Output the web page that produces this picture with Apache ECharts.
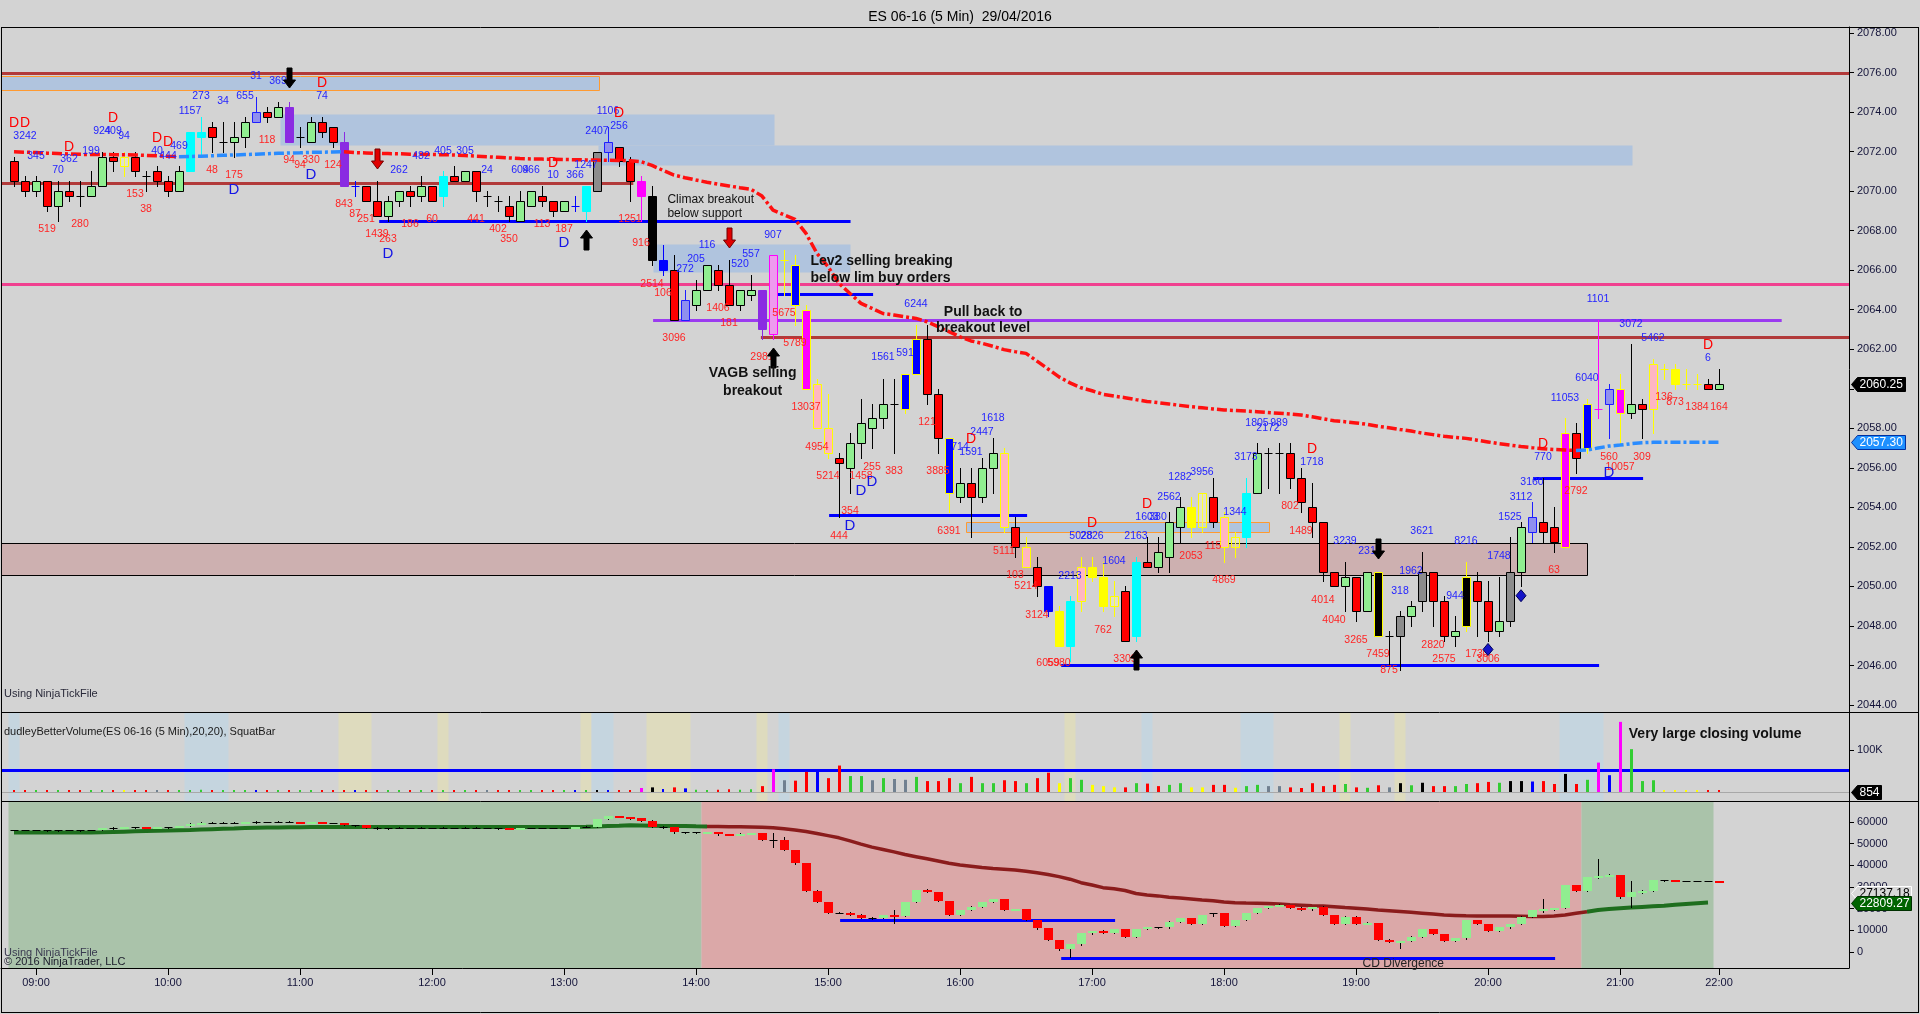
<!DOCTYPE html>
<html>
<head>
<meta charset="utf-8">
<title>ES 06-16 (5 Min) 29/04/2016</title>
<script src="https://cdn.jsdelivr.net/npm/echarts@6.0.0/dist/echarts.min.js"></script>
<style>
html,body{margin:0;padding:0;background:#d3d3d3;overflow:hidden;}
#chart{width:1920px;height:1014px;}
</style>
</head>
<body>
<div id="chart"></div>
<script>
// ================= DATA =================
// x positions are 5-minute bar numbers (bar 0 = 08:50 ... bar 155 = 22:00; 21:20-21:30 halt has no bars)
const tickBars   = [2,14,26,38,50,62,74,86,98,110,122,134,146,155];
const tickLabels = ['09:00','10:00','11:00','12:00','13:00','14:00','15:00','16:00','17:00','18:00','19:00','20:00','21:00','22:00'];
const priceTicks = [2044,2046,2048,2050,2052,2054,2056,2058,2060,2062,2064,2066,2068,2070,2072,2074,2076,2078];
const volTicks   = [100];          // thousands
const cdTicks    = [0,10000,20000,30000,40000,50000,60000];

const open = [
2071.50,2070.50,2070.00,2070.50,2069.25,2070.00,2069.75,2069.75,2070.25,2071.75,
2071.75,2071.75,2070.75,2071.00,2070.50,2070.00,2071.00,2073.00,2073.25,2072.50,
2072.50,2072.75,2073.50,2074.00,2073.75,2074.25,2072.75,2072.50,2073.50,2073.25,
2072.50,2070.25,2070.25,2069.50,2068.75,2069.50,2070.00,2069.75,2070.25,2069.75,
2070.75,2070.50,2071.00,2069.75,2069.50,2069.25,2068.50,2069.25,2069.75,2069.50,
2069.00,2069.25,2069.00,2070.00,2072.00,2072.25,2071.50,2070.50,2069.75,2066.50,
2066.00,2063.50,2064.25,2065.00,2066.00,2065.25,2064.25,2064.75,2065.00,2062.75,
2066.50,2066.25,2064.00,2060.25,2058.00,2056.50,2056.00,2057.25,2058.00,2058.50,
2059.25,2059.00,2060.75,2062.50,2059.75,2057.50,2054.50,2055.25,2054.50,2056.00,
2056.75,2053.00,2052.00,2051.00,2050.00,2048.75,2047.00,2049.25,2051.00,2050.50,
2049.00,2049.75,2047.50,2051.25,2051.00,2051.50,2053.00,2054.00,2053.00,2054.50,
2053.50,2052.00,2052.50,2054.75,2056.75,2056.75,2056.75,2055.50,2054.00,2053.25,
2050.75,2050.00,2050.50,2048.75,2050.75,2047.50,2047.50,2048.50,2049.25,2050.75,
2049.25,2047.50,2048.00,2050.25,2049.25,2047.75,2048.25,2050.75,2052.75,2053.25,
2053.00,2052.00,2057.75,2057.00,2059.00,2059.25,2060.00,2058.75,2059.25,2059.00,
2061.00,2061.00,2060.25,2060.25,2060.25,2060.00];
const high = [
2071.75,2070.75,2070.75,2070.50,2070.50,2070.50,2070.50,2071.00,2072.00,2072.00,
2072.00,2072.00,2071.00,2071.25,2070.75,2071.25,2073.00,2073.75,2073.50,2073.50,
2073.50,2073.75,2074.75,2074.25,2074.50,2074.50,2073.25,2073.75,2073.75,2073.25,
2073.00,2070.50,2070.25,2070.50,2069.75,2070.00,2070.25,2070.75,2070.25,2071.00,
2071.25,2071.00,2071.00,2070.00,2069.75,2069.75,2070.00,2070.00,2070.25,2069.50,
2069.50,2069.75,2070.25,2072.00,2073.25,2072.25,2071.75,2070.75,2070.25,2067.25,
2066.75,2065.00,2065.50,2066.25,2066.25,2066.50,2065.00,2065.75,2065.00,2066.75,
2067.00,2066.75,2064.25,2060.50,2059.75,2056.75,2057.75,2059.50,2059.25,2060.50,
2060.50,2060.75,2063.25,2063.25,2060.00,2057.50,2056.00,2056.00,2056.50,2057.50,
2057.00,2053.50,2052.50,2051.50,2050.00,2049.00,2049.50,2051.50,2051.50,2051.25,
2050.25,2050.00,2051.50,2052.50,2052.50,2053.75,2054.50,2054.50,2054.75,2055.50,
2053.75,2052.75,2055.50,2057.25,2057.00,2057.25,2057.25,2056.00,2055.25,2053.25,
2050.75,2051.25,2050.50,2050.75,2050.75,2047.75,2048.75,2049.25,2051.75,2050.75,
2049.50,2048.50,2051.25,2050.75,2050.25,2050.50,2052.50,2053.25,2054.25,2055.50,
2054.00,2058.50,2058.25,2059.50,2063.50,2060.25,2060.75,2062.25,2059.50,2061.50,
2061.25,2061.25,2061.00,2060.75,2060.50,2061.00];
const low = [
2070.25,2069.75,2069.75,2069.00,2068.50,2069.50,2069.25,2069.75,2070.25,2071.00,
2070.75,2070.75,2070.00,2070.25,2069.75,2070.00,2071.00,2071.75,2072.00,2072.00,
2071.75,2072.25,2073.50,2073.50,2073.75,2072.50,2072.25,2072.50,2072.75,2072.25,
2070.25,2069.75,2069.50,2068.75,2068.50,2069.25,2069.25,2069.50,2069.50,2069.25,
2070.50,2070.50,2069.50,2069.25,2069.00,2068.50,2068.50,2069.25,2069.25,2068.75,
2069.00,2069.00,2068.50,2070.00,2071.50,2071.25,2069.50,2068.50,2066.25,2065.75,
2063.50,2063.50,2064.00,2065.00,2065.00,2064.25,2064.00,2064.50,2062.50,2062.50,
2064.75,2063.25,2060.00,2058.00,2056.50,2053.50,2054.75,2056.50,2057.00,2058.00,
2056.75,2058.75,2060.75,2059.25,2056.75,2053.75,2054.25,2052.50,2054.25,2054.75,
2052.75,2051.50,2051.00,2049.50,2048.50,2047.00,2046.25,2048.75,2050.25,2048.75,
2048.50,2047.25,2047.25,2051.00,2050.75,2050.75,2052.25,2052.50,2052.75,2053.00,
2051.25,2051.50,2052.00,2054.75,2055.00,2054.75,2055.00,2053.75,2052.50,2050.25,
2050.00,2048.75,2048.25,2048.75,2047.50,2046.00,2045.75,2048.00,2048.75,2048.00,
2047.25,2047.00,2047.75,2047.50,2047.25,2047.50,2048.00,2050.00,2052.25,2052.25,
2051.75,2052.00,2055.75,2056.75,2058.50,2057.50,2057.25,2058.50,2057.50,2057.75,
2060.50,2060.00,2060.00,2060.00,2060.00,2060.00];
const close = [
2070.50,2070.00,2070.50,2069.25,2070.00,2069.75,2069.75,2070.25,2071.75,2071.50,
2071.25,2071.00,2070.75,2070.50,2070.00,2071.00,2073.00,2072.75,2072.75,2072.50,
2072.75,2073.50,2074.00,2073.75,2074.25,2072.50,2072.75,2073.50,2073.00,2072.50,
2070.25,2070.25,2069.50,2068.75,2069.50,2070.00,2069.75,2070.25,2069.50,2070.75,
2070.50,2071.00,2070.00,2069.75,2069.50,2068.75,2069.50,2070.00,2069.50,2069.00,
2069.50,2069.25,2070.25,2072.00,2072.50,2071.50,2070.50,2069.75,2066.50,2066.00,
2063.50,2064.50,2065.00,2066.25,2065.25,2064.25,2065.00,2065.00,2063.00,2066.75,
2066.50,2064.25,2060.00,2058.00,2056.75,2056.25,2057.25,2058.25,2058.50,2059.25,
2059.25,2060.75,2062.50,2059.75,2057.50,2054.75,2055.25,2054.50,2056.00,2056.75,
2053.00,2052.00,2051.00,2050.00,2048.75,2047.00,2049.25,2051.00,2050.50,2049.00,
2049.50,2047.25,2051.25,2051.00,2051.75,2053.25,2054.00,2053.00,2054.75,2053.25,
2052.00,2052.50,2054.75,2056.75,2056.75,2056.75,2055.50,2054.25,2053.25,2050.75,
2050.00,2050.50,2048.75,2050.75,2047.50,2047.50,2048.50,2049.00,2050.75,2049.25,
2047.50,2047.75,2050.50,2049.25,2047.75,2048.25,2050.75,2053.00,2053.50,2052.75,
2052.25,2057.75,2056.50,2059.25,2059.00,2060.00,2058.75,2059.25,2059.00,2061.25,
2061.00,2060.25,2060.25,2060.25,2060.00,2060.25];

// bar paint class (volume-analysis colouring of each candle)
const barClass = ('R R G R G R X G G R YH R X R R G C C R X G G LB R G P X G R R ' +
 'P XB R R G G R G R C R G R X X R G G R R G XB C GR LB R R M K B ' +
 'R LB G G R R G G P PKM XY BY MY PKY PKY R G G G G X BY BY R R BY G R G G ' +
 'PKY R PKY R B Y C PKY Y Y YH R C R G G G Y YH R PKY YH C G X X R R R R ' +
 'R G R G KY X GR G GR R R G KY R R G GR G LB R R MY R BY XM LB MY G R PKY ' +
 'XY Y XY XY R G').split(' ');

// volume per bar, thousands of contracts
const volume = [
2.2,1.8,1.6,2.4,1.9,1.4,1.2,1.8,2.6,1.5, 1.3,2.0,1.2,1.6,1.7,2.0,3.0,5.5,2.5,1.5,
1.8,2.2,2.5,1.6,1.8,2.8,1.4,2.0,1.6,2.2, 3.0,2.5,2.4,5.0,2.6,1.8,1.5,1.8,2.0,2.4,
1.5,1.4,2.2,1.3,1.2,2.0,2.4,1.8,1.5,1.8, 1.4,2.0,4.8,4.8,4.8,3.0,4.8,9.5,11,7,
11,8.7,5.5,4.8,5.5,6.3,5.5,6.3,14,54, 28,27,48,52,33,63,38,38,28,33,
31,29,36,26,26,33,21,36,21,21, 28,26,21,33,46,21,33,29,17,14,
11,11,21,20,14,17,21,11,11,17, 17,10,14,17,14,14,11,9.5,21,14,
17,19,11,10,16,11,21,16,22,14, 14,14,19,21,24,22,26,26,25,26,
19,43,19,29,70,40,167,102,26,28, 5,2.5,2.5,2.5,1.5,0.854];
const volClass = ('r r g r g r r g g r y r r s r g g g r g g g b r g r g g r r ' +
 'r b r r g g r g r g r g r s r r g g r r g b g k b r r m k b ' +
 'r b g g r r g g r m s r r b r r g g s g s s g r r r g r g g ' +
 'r r g r r y g g y y y r g r r g g y y r r y g g s s r r r r ' +
 'r g r g r s k g k r r g g r r g k k b r r k r g m b m g g g y y y y r r').split(' ');
// squat-bar background bands [fromBar, toBar, kind]
const volBands = [[0,0,'b'],[16,19,'b'],[30,32,'y'],[39,39,'y'],[52,52,'y'],[53,54,'b'],[58,61,'y'],
 [68,68,'y'],[70,70,'b'],[96,96,'y'],[103,103,'b'],[112,114,'b'],[121,121,'y'],[126,126,'y'],[141,144,'b']];

// moving average on price panel
const ma = [
2071.99,2071.97,2071.95,2071.92,2071.90,2071.88,2071.86,2071.855,2071.85,2071.845,
2071.84,2071.83,2071.81,2071.79,2071.76,2071.74,2071.75,2071.77,2071.79,2071.81,
2071.83,2071.85,2071.87,2071.89,2071.91,2071.93,2071.94,2071.96,2071.97,2071.98,
2071.99,2071.95,2071.93,2071.91,2071.90,2071.89,2071.87,2071.86,2071.85,2071.84,
2071.83,2071.80,2071.77,2071.74,2071.71,2071.68,2071.65,2071.63,2071.62,2071.61,
2071.60,2071.59,2071.58,2071.57,2071.56,2071.55,2071.54,2071.49,2071.30,2071.05,
2070.81,2070.68,2070.56,2070.45,2070.35,2070.26,2070.17,2070.09,2069.75,2069.04,
2068.80,2068.57,2067.86,2066.85,2066.18,2065.33,2064.82,2064.32,2064.07,2063.81,
2063.73,2063.64,2063.56,2063.39,2063.14,2062.89,2062.63,2062.42,2062.30,2062.15,
2061.98,2061.88,2061.79,2061.40,2061.00,2060.60,2060.30,2060.05,2059.90,2059.72,
2059.63,2059.55,2059.45,2059.36,2059.30,2059.23,2059.16,2059.09,2059.04,2058.98,
2058.93,2058.90,2058.87,2058.84,2058.80,2058.76,2058.72,2058.67,2058.58,2058.48,
2058.38,2058.33,2058.27,2058.20,2058.10,2058.03,2057.94,2057.86,2057.76,2057.68,
2057.60,2057.54,2057.49,2057.40,2057.31,2057.22,2057.15,2057.08,2057.02,2056.97,
2056.93,2056.90,2056.88,2056.90,2057.00,2057.10,2057.15,2057.22,2057.27,2057.29,
2057.30,2057.30,2057.30,2057.30,2057.30,2057.30];

// cumulative delta panel
const cdOpen = [
56300,56300,56400,56350,56100,56250,56300,56100,56300,57000, 57400,57500,57500,57450,57500,57800,58000,59300,59700,59600,
59700,59700,59800,60150,60050,60200,59900,59700,59900,59700, 59500,58600,58400,57400,57000,57300,57400,57300,57300,57100,
57400,57350,57450,57200,57250,57000,56900,57200,57400,57300, 57200,57350,57700,57900,61400,62700,62300,61700,60600,57800,
57500,55200,55200,55000,55500,54300,54000,54600,54750,51700, 51500,47100,40900,28300,23200,18150,18150,17300,15850,15540,
17075,16800,23200,28600,27850,23550,17100,19400,20900,23200, 24460,19400,19700,14770,10920,5540,1230,3540,8615,9845,
8920,10460,7080,10460,11380,11380,14000,15540,12920,17800, 17845,12000,14770,18150,20150,21380,21845,20150,19700,20900,
17075,12920,16300,12920,13540,5540,4770,5080,7080,10460, 8150,5230,6300,14770,12920,9845,11380,12920,16300,19384,
19690,20150,30920,28300,34460,35230,35540,25230,27850,28300, 33230,33000,32615,32615,32615,32615];
const cdHigh = [
56500,56500,56500,56400,56400,56400,56350,56400,57100,57500, 57600,57600,57550,57600,57900,58200,59400,59900,59800,59800,
59850,59900,60300,60200,60300,60300,60000,60000,59950,59750, 59600,58700,58450,57800,57400,57500,57450,57500,57350,57500,
57450,57500,57500,57300,57300,57050,57300,57450,57450,57350, 57400,57750,58000,61500,62800,62800,62400,61800,60700,58000,
57600,55400,55600,55600,55600,54400,54800,54900,55000,54800, 52900,47200,41000,28500,23300,18600,18300,17400,16000,17300,
19400,23300,28700,29000,27900,23600,19500,21000,23300,24600, 24600,20000,19800,14900,11000,5600,3700,8700,9900,10000,
10500,10600,10600,11500,11600,14100,15600,15700,17200,18200, 17900,14800,18200,20200,21400,22100,21900,20900,20950,21000,
17100,16400,16400,13800,13600,5900,5300,7200,10500,10500, 8200,6400,14800,14900,13000,11400,13000,16400,19400,24300,
20300,31000,31000,34500,42920,36200,35600,32770,28600,33300, 33300,33050,32650,32650,32650,32650];
const cdLow = [
56100,56200,56200,55900,56000,56100,56000,56100,56200,56900, 57300,57400,57350,57400,57450,57700,58000,59200,59500,59500,
59600,59600,59750,59950,60000,59800,59600,59650,59600,59400, 58500,58300,57300,56900,56900,57200,57200,57200,57000,57050,
57300,57300,57100,57100,56900,56800,56850,57150,57250,57100, 57150,57300,57600,57900,61300,62200,61600,60500,57700,57300,
55100,55100,55100,54800,54200,53900,53900,54500,51600,48600, 47000,40800,28200,23100,18100,17800,17000,15700,15400,15500,
13500,16700,23100,27800,23500,17000,17000,19300,20800,23100, 19300,19300,14700,10800,5400,1100,-2460,3400,8500,8800,
8800,7000,7000,10400,11200,11300,13900,12800,12800,16800, 11900,11900,14700,18100,20100,21200,20100,19600,19600,17000,
12800,12800,12800,12800,5400,4700,1690,5000,7000,8100, 5200,5100,6200,12800,9800,9700,11300,12800,16200,18600,
19500,20100,28200,28200,34300,35000,25100,20920,27200,28200, 32900,32600,32580,32580,32580,32200];
const cdClose = [
56300,56400,56350,56100,56250,56300,56100,56300,57000,57400, 57500,57500,57450,57500,57800,58000,59300,59700,59600,59700,
59700,59800,60150,60050,60200,59900,59700,59900,59700,59500, 58600,58400,57400,57000,57300,57400,57300,57300,57100,57400,
57350,57450,57200,57250,57000,56900,57200,57400,57300,57200, 57350,57700,57900,61400,62700,62300,61700,60600,57800,57500,
55200,55200,55500,55500,54300,54000,54600,54750,51700,51500, 47100,40900,28300,23200,18150,18150,17300,15850,15540,17075,
16800,23200,28600,27850,23550,17100,19400,20900,23200,24460, 19400,19700,14770,10920,5540,1230,3540,8615,9845,8920,
10460,7080,10460,11380,11380,14000,15540,12920,17075,17845, 12000,14770,18150,20150,21380,21845,20150,19700,20900,17075,
12920,16300,12920,13540,5540,4770,5080,7080,10460,8150, 5230,6300,14770,12920,9845,11380,12920,16300,19384,19690,
20150,30920,28300,34460,35230,35540,25230,27850,28300,33230, 33000,32615,32615,32615,32615,32300];
const cdMa = [
55200,55200,55200,55200,55200,55200,55200,55200,55250,55400, 55550,55700,55850,55950,56050,56200,56350,56550,56700,56850,
57000,57200,57380,57450,57500,57550,57600,57650,57680,57690, 57700,57700,57700,57700,57700,57700,57700,57700,57700,57700,
57700,57700,57700,57700,57700,57700,57700,57700,57700,57700, 57700,57720,57800,57950,58150,58300,58460,58400,58300,58200,
58150,58100,58000,57950,57900,57850,57750,57650,57540,57300, 56900,56300,55600,54700,53700,52700,51300,49800,48400,47300,
46200,45000,44000,43000,42000,41000,40150,39600,39000,38500, 38200,37800,37300,36600,35800,34800,33600,32000,30900,29700,
29200,28400,27000,26300,25900,25300,24900,24500,24000,23600, 23100,22770,22600,22500,22350,22100,21800,21600,21400,21250,
20900,20500,20150,19800,19400,19080,18700,18300,17900,17500, 17100,16900,16700,16620,16620,16620,16620,16500,16350,16350,
16600,17100,17850,18600,19380,19800,20200,20500,20800,21100, 21400,21800,22200,22550,22809,null];
const cdZones = [[0,62,'up'],[63,142,'down'],[143,154,'up']];
const cdLevels = [[14770,75.1,100.1],[-2925,95.2,140.1]];

// drawn objects on the price panel (null = runs to the panel edge)
const priceZones = [
 [null,53.2,2075.1,2075.8,'orange'],
 [24.2,69.1,2072.33,2073.9,'blue'],
 [53.1,147.1,2071.3,2072.33,'blue'],
 [58.1,76.05,2065.92,2067.32,'blue'],
 [86.5,114.0,2052.76,2053.27,'orange'],
 [null,143.0,2050.56,2052.18,'rose']];
const priceLevels = [
 [2076.0,null,null,'red'],[2070.4,null,56.3,'red'],[2065.3,null,null,'pink'],
 [2063.5,58.1,160.7,'purple'],[2062.6,67.9,null,'red'],
 [2068.5,33.2,76.05,'blue'],[2064.8,69.2,78.1,'blue'],[2053.6,74.1,92.1,'blue'],
 [2046.0,95.2,144.1,'blue'],[2055.5,138.1,148.1,'blue']];
const volLevels = [[52,'blue'],[0,'grey']];

// per-bar volume/delta annotations [bar, price, text]
const blueNums = [
[1,2072.79,'3242'],[2,2071.79,'345'],[4,2071.07,'70'],[5,2071.61,'362'],[7,2072.03,'199'],[8,2073.04,'924'],
[9,2073.04,'409'],[10,2072.79,'94'],[13,2072.03,'40'],[14,2071.79,'444'],[15,2072.28,'469'],[16,2074.05,'1157'],
[17,2074.81,'273'],[19,2074.56,'34'],[21,2074.81,'655'],[22,2075.84,'31'],[24,2075.57,'369'],[28,2074.81,'74'],
[35,2071.07,'262'],[37,2071.79,'482'],[39,2072.03,'405'],[41,2072.03,'305'],[43,2071.07,'24'],[46,2071.07,'604'],
[47,2071.07,'966'],[49,2070.81,'10'],[51,2070.81,'366'],[52,2071.32,'1247'],[53,2073.04,'2407'],[54,2074.05,'1106'],
[55,2073.29,'256'],[61,2066.04,'272'],[62,2066.55,'205'],[63,2067.27,'116'],[66,2066.31,'520'],[67,2066.82,'557'],
[69,2067.78,'907'],[79,2061.59,'1561'],[81,2061.79,'591'],[82,2064.29,'6244'],[86,2057.07,'714'],[87,2056.81,'1591'],
[88,2057.83,'2447'],[89,2058.50,'1618'],[96,2050.52,'2213'],[97,2052.54,'5028'],[98,2052.54,'2826'],[100,2051.28,'1604'],
[102,2052.54,'2163'],[103,2053.52,'1603'],[104,2053.52,'380'],[105,2054.54,'2562'],[106,2055.55,'1282'],[108,2055.80,'3956'],
[111,2053.78,'1344'],[112,2056.56,'3173'],[113,2058.28,'1805'],[115,2058.28,'989'],[114,2058.00,'2172'],[118,2056.27,'1718'],
[121,2052.31,'3239'],[123,2051.80,'231'],[126,2049.76,'318'],[127,2050.79,'1962'],[128,2052.80,'3621'],[131,2049.50,'944'],
[132,2052.31,'8216'],[135,2051.53,'1748'],[136,2053.52,'1525'],[137,2054.54,'3112'],[138,2055.29,'3160'],[139,2056.56,'770'],
[141,2059.51,'11053'],[143,2060.56,'6040'],[144,2064.54,'1101'],[147,2063.27,'3072'],[149,2062.56,'5462'],[154,2061.54,'6']];
const redNums = [
[3,2068.08,'519'],[6,2068.33,'280'],[11,2069.85,'153'],[12,2069.09,'38'],[18,2071.07,'48'],[20,2070.81,'175'],
[23,2072.59,'118'],[25,2071.57,'94'],[26,2071.32,'94'],[27,2071.57,'330'],[29,2071.32,'124'],[30,2069.35,'843'],
[31,2068.84,'87'],[32,2068.59,'251'],[33,2067.83,'1439'],[34,2067.58,'263'],[36,2068.33,'186'],[38,2068.59,'60'],
[42,2068.59,'441'],[44,2068.08,'402'],[45,2067.58,'350'],[48,2068.33,'113'],[50,2068.08,'187'],[56,2068.59,'1251'],
[57,2067.36,'916'],[58,2065.30,'2514'],[59,2064.82,'106'],[60,2062.55,'3096'],[64,2064.07,'1406'],[65,2063.31,'181'],
[68,2061.62,'2981'],[70,2063.81,'5675'],[71,2062.30,'5789'],[72,2059.06,'13037'],[73,2057.03,'4954'],[74,2055.58,'5214'],
[75,2052.54,'444'],[76,2053.81,'354'],[77,2055.58,'1458'],[78,2056.02,'255'],[80,2055.83,'383'],[83,2058.30,'121'],
[84,2055.83,'3885'],[85,2052.80,'6391'],[90,2051.79,'5111'],[91,2050.57,'103'],[92,2050.03,'5214'],[93,2048.55,'3124'],
[94,2046.10,'6059'],[95,2046.10,'5980'],[99,2047.79,'762'],[101,2046.30,'3309'],[107,2051.53,'2053'],[109,2052.04,'115'],
[110,2050.32,'4869'],[116,2054.06,'802'],[117,2052.80,'1489'],[119,2049.30,'4014'],[120,2048.30,'4040'],[122,2047.28,'3265'],
[124,2046.57,'7459'],[125,2045.76,'875'],[129,2047.03,'2820'],[130,2046.30,'2575'],[133,2046.57,'1730'],[134,2046.30,'3006'],
[140,2050.82,'63'],[142,2054.82,'2792'],[145,2056.56,'560'],[146,2056.05,'10057'],[148,2056.56,'309'],[150,2059.56,'136'],
[151,2059.31,'873'],[153,2059.06,'1384'],[155,2059.06,'164']];
const redD = [[0,2073.46],[1,2073.46],[5,2072.21],[9,2073.68],[13,2072.67],[14,2072.5],[28,2075.45],[49,2071.44],
 [55,2073.97],[87,2057.45],[98,2053.22],[103,2054.16],[118,2056.95],[139,2057.2],[154,2062.21]];
const blueD = [[20,2070.05],[27,2070.81],[34,2066.85],[50,2067.36],[76,2053.05],[77,2054.84],[78,2055.3],[145,2055.77]];
// signal arrows [bar, tip price, direction (1 up / -1 down), kind]
const arrows = [[25,2075.22,-1,'k'],[52,2068.03,1,'k'],[33,2071.12,-1,'r'],[65,2067.12,-1,'r'],
 [69,2062.06,1,'k'],[102,2046.78,1,'k'],[124,2051.38,-1,'k']];
const diamonds = [[137,2049.53],[134,2046.81]];
// commentary [bar, price, text, weight, align]
const priceNotes = [
 [59.4,2069.55,'Climax breakout','normal','left'],[59.4,2068.84,'below support','normal','left'],
 [72.4,2066.46,'Lev2 selling breaking','bold','left'],[72.4,2065.60,'below lim buy orders','bold','left'],
 [88.1,2063.90,'Pull back to','bold','center'],[88.1,2063.06,'breakout level','bold','center'],
 [67.15,2060.80,'VAGB selling','bold','center'],[67.15,2059.90,'breakout','bold','center']];
const volNotes = [[146.8,138,'Very large closing volume','bold','left']];
const cdNotes = [[126.3,-5538,'CD Divergence','normal','center']];
// last-value tags [value, text, kind]
const priceTags = [[2060.25,'2060.25','last'],[2057.30,'2057.30','ma']];
const volTags = [[0.854,'854','last']];
const cdTags = [[27137.18,'27137.18','plain'],[22809.27,'22809.27','cdma']];

// ================= STYLE / LAYOUT =================
const FONT = '"Liberation Sans", Arial, Helvetica, sans-serif';
const AXIS_TEXT = '#14143A';
const XMIN = -13/11, XMAX = 1835/11;
const PMIN = 2043.6458, PMAX = 2078.3036;
const VMIN = -21.43, VMAX = 190.48;
const CMIN = -7385, CMAX = 69692;

const CANDLE = {
 R:['#FF0000','#000000'], G:['#90EE90','#000000'], X:[null,'#000000'], XB:[null,'#0000FF'],
 XY:[null,'#FFFF00'], XM:[null,'#FF00FF'], C:['#00FFFF','#00FFFF'], LB:['#8F8FEF','#1E1EFF'],
 P:['#8A2BE2','#8A2BE2'], GR:['#8C8C8C','#000000'], K:['#000000','#000000'], B:['#0000FF','#0000FF'],
 BY:['#0000FF','#FFFF00'], M:['#FF00FF','#FF00FF'], MY:['#FF00FF','#FFFF00'], PKY:['#FFB6C1','#FFFF00'],
 PKM:['#EE9AEE','#FF00FF'], Y:['#FFFF00','#FFFF00'], YH:['rgba(255,255,190,0.3)','#FFFF00'], KY:['#000000','#FFFF00']};
const VOLC = {r:'#FF0000', g:'#32CD32', b:'#0000FF', k:'#000000', m:'#FF00FF', y:'#FFFF00', s:'#708090'};
const ZONE = {blue:['#B0C4DE',null], orange:['#B0C4DE','#FF9A30'], rose:['#CDB0B0','#000000']};
const LEVEL = {red:['#B23A3A',3], pink:['#F0408F',3], purple:['#9B3BF0',3], blue:['#0000FF',3], grey:['#A8A8A8',1]};
const TAG = {last:['#000000','#FFFFFF','#000000'], ma:['#1E90FF','#FFFFFF','#0030A0'],
 plain:['#D8D8D8','#000000','#FFFFFF'], cdma:['#006400','#FFFFFF','#003000']};

const edge = (v, d) => v === null ? d : v;

function zoneSeries() {
 return {type:'custom', xAxisIndex:0, yAxisIndex:0, z:1, silent:true, clip:true,
  data: priceZones.map(z => [edge(z[0], XMIN), z[2]]),
  renderItem:(params, api) => {
   const z = priceZones[params.dataIndex];
   const a = api.coord([edge(z[0], XMIN), z[3]]), b = api.coord([edge(z[1], XMAX), z[2]]);
   const st = ZONE[z[4]];
   return {type:'rect', shape:{x:Math.round(a[0])+0.5, y:Math.round(a[1])+0.5, width:Math.round(b[0]-a[0]), height:Math.round(b[1]-a[1])},
    style:{fill:st[0], stroke:st[1] || 'none', lineWidth:st[1] ? 1 : 0}};
  }};
}
function levelSeries(levels, xi, yi, getY, getX0, getX1, getKind, z) {
 return {type:'custom', xAxisIndex:xi, yAxisIndex:yi, z:z, silent:true, clip:true,
  data: levels.map(l => [getX0(l), getY(l)]),
  renderItem:(params, api) => {
   const l = levels[params.dataIndex];
   const a = api.coord([getX0(l), getY(l)]), b = api.coord([getX1(l), getY(l)]);
   const st = LEVEL[getKind(l)];
   const y = st[1] % 2 ? Math.round(a[1]) + 0.5 : Math.round(a[1]);
   return {type:'line', shape:{x1:a[0], y1:y, x2:b[0], y2:y}, style:{stroke:st[0], lineWidth:st[1]}};
  }};
}
function textSeries(arr, xi, yi, color, font, z, fixedText) {
 return {type:'custom', xAxisIndex:xi, yAxisIndex:yi, z:z, silent:true, clip:false,
  data: arr.map(a => [a[0], a[1]]),
  renderItem:(params, api) => {
   const a = arr[params.dataIndex];
   const p = api.coord([a[0], a[1]]);
   const f = typeof font === 'function' ? font(a) : font;
   const al = a[4] || 'center';
   return {type:'text', x:p[0], y:p[1], style:{text: fixedText || a[2], fill:color, font:f,
    align:al, verticalAlign:'middle', textAlign:al, textVerticalAlign:'middle'}};
  }};
}
function tagSeries(tags, xi, yi) {
 return {type:'custom', xAxisIndex:xi, yAxisIndex:yi, z:20, silent:true, clip:false,
  data: tags.map(t => [XMAX, t[0]]),
  renderItem:(params, api) => {
   const t = tags[params.dataIndex];
   const p = api.coord([XMAX, t[0]]);
   const x = Math.round(p[0]) + 2.5, y = Math.round(p[1]) + 0.5;
   const w = t[1].length * 6 + 6;
   const st = TAG[t[2]];
   return {type:'group', children:[
    {type:'polygon', shape:{points:[[x,y],[x+6,y-7],[x+6+w,y-7],[x+6+w,y+7],[x+6,y+7]]}, style:{fill:st[0], stroke:st[2], lineWidth:1}},
    {type:'text', x:x+8, y:y, style:{text:t[1], fill:st[1], font:'12px ' + FONT, align:'left', verticalAlign:'middle', textAlign:'left', textVerticalAlign:'middle'}}
   ]};
  }};
}

// moving-average colour split by slope
const maRed = [], maBlue = [];
const segUp = j => j >= 0 && j < ma.length - 1 && ma[j+1] >= ma[j];
const segDn = j => j >= 0 && j < ma.length - 1 && ma[j+1] < ma[j];
for (let i = 0; i < ma.length; i++) {
 maRed.push([i, (segDn(i) || segDn(i-1)) ? ma[i] : null]);
 maBlue.push([i, (segUp(i) || segUp(i-1)) ? ma[i] : null]);
}
const zoneOf = i => { for (const z of cdZones) if (i >= z[0] && i <= z[1]) return z[2]; return null; };
const cdMaUp = [], cdMaDn = [];
for (let i = 0; i < cdMa.length; i++) {
 const s0 = zoneOf(i), s1 = zoneOf(i-1);
 cdMaUp.push([i, (s0 === 'up' || s1 === 'up') && cdMa[i] !== null ? cdMa[i] : null]);
 cdMaDn.push([i, (s0 === 'down' || s1 === 'down') && cdMa[i] !== null ? cdMa[i] : null]);
}

const xAxisBase = {type:'value', min:XMIN, max:XMAX, splitLine:{show:false}};
const yAxisBase = {type:'value', position:'right', splitLine:{show:false},
 axisLine:{show:true, onZero:false, lineStyle:{color:'#000', width:1}},
 axisTick:{show:true, length:5, lineStyle:{color:'#000'}},
 axisLabel:{color:AXIS_TEXT, fontSize:11, fontFamily:FONT, margin:8}};

const captionStyle = (text, y, color) => ({type:'text', x:4, y:y, z:100, silent:true,
 style:{text:text, font:'11px ' + FONT, fill:color, verticalAlign:'middle', textVerticalAlign:'middle'}});
const frameLine = (x1, y1, x2, y2) => ({type:'line', z:100, silent:true, shape:{x1:x1, y1:y1, x2:x2, y2:y2}, style:{stroke:'#000', lineWidth:1}});

const option = {
 animation:false,
 backgroundColor:'#D3D3D3',
 title:{text:'ES 06-16 (5 Min)  29/04/2016', left:'center', top:5,
  textStyle:{fontSize:14, fontWeight:'normal', color:'#000', fontFamily:FONT}},
 grid:[
  {left:1, top:27, width:1848, height:685, outerBoundsMode:'none'},
  {left:1, top:712, width:1848, height:89, outerBoundsMode:'none'},
  {left:1, top:801, width:1848, height:167, outerBoundsMode:'none'}],
 xAxis:[
  Object.assign({}, xAxisBase, {gridIndex:0, show:false}),
  Object.assign({}, xAxisBase, {gridIndex:1, show:false}),
  Object.assign({}, xAxisBase, {gridIndex:2, show:true,
   axisLine:{show:true, onZero:false, lineStyle:{color:'#000'}},
   axisTick:{show:true, customValues:tickBars, length:7, lineStyle:{color:'#000'}},
   axisLabel:{customValues:tickBars, formatter:v => tickLabels[tickBars.indexOf(v)] || '', color:AXIS_TEXT, fontSize:11, fontFamily:FONT, margin:9}})],
 yAxis:[
  Object.assign({}, yAxisBase, {gridIndex:0, min:PMIN, max:PMAX,
   axisTick:Object.assign({}, yAxisBase.axisTick, {customValues:priceTicks}),
   axisLabel:Object.assign({}, yAxisBase.axisLabel, {customValues:priceTicks, formatter:v => v.toFixed(2)})}),
  Object.assign({}, yAxisBase, {gridIndex:1, min:VMIN, max:VMAX,
   axisTick:Object.assign({}, yAxisBase.axisTick, {customValues:volTicks}),
   axisLabel:Object.assign({}, yAxisBase.axisLabel, {customValues:volTicks, formatter:v => v + 'K'})}),
  Object.assign({}, yAxisBase, {gridIndex:2, min:CMIN, max:CMAX,
   axisTick:Object.assign({}, yAxisBase.axisTick, {customValues:cdTicks}),
   axisLabel:Object.assign({}, yAxisBase.axisLabel, {customValues:cdTicks, formatter:v => String(v)})})],
 series:[
  // ---- price panel ----
  zoneSeries(),
  levelSeries(priceLevels, 0, 0, l => l[0], l => edge(l[1], XMIN), l => edge(l[2], XMAX), l => l[3], 2),
  {type:'custom', xAxisIndex:0, yAxisIndex:0, z:4, silent:true, clip:true,
   data: open.map((o, i) => [i, o, close[i], low[i], high[i]]),
   encode:{x:0, y:[1,2,3,4]},
   renderItem:(params, api) => {
    const i = api.value(0);
    const st = CANDLE[barClass[params.dataIndex]] || CANDLE.X;
    const po = api.coord([i, api.value(1)]), pc = api.coord([i, api.value(2)]);
    const pl = api.coord([i, api.value(3)]), ph = api.coord([i, api.value(4)]);
    const x = Math.round(po[0]);
    const top = Math.round(Math.min(po[1], pc[1])), bot = Math.round(Math.max(po[1], pc[1]));
    const ch = [{type:'line', shape:{x1:x+0.5, y1:Math.round(ph[1]), x2:x+0.5, y2:Math.round(pl[1])+1}, style:{stroke:st[1], lineWidth:1}}];
    if (bot - top < 1 || !st[0]) ch.push({type:'line', shape:{x1:x-3.5, y1:top+0.5, x2:x+4.5, y2:top+0.5}, style:{stroke:st[1], lineWidth:1}});
    else ch.push({type:'rect', shape:{x:x-3.5, y:top+0.5, width:8, height:bot-top}, style:{fill:st[0], stroke:st[1], lineWidth:1}});
    return {type:'group', children:ch};
   }},
  {type:'line', xAxisIndex:0, yAxisIndex:0, z:5, silent:true, data:maRed, showSymbol:false, connectNulls:false,
   lineStyle:{color:'#FF1010', width:3.5, type:[10,3,3,3]}},
  {type:'line', xAxisIndex:0, yAxisIndex:0, z:5, silent:true, data:maBlue, showSymbol:false, connectNulls:false,
   lineStyle:{color:'#2A8CFF', width:3.5, type:[10,3,3,3]}},
  textSeries(blueNums, 0, 0, '#2424FF', '10.5px ' + FONT, 6),
  textSeries(redNums, 0, 0, '#FF2424', '10.5px ' + FONT, 6),
  textSeries(redD, 0, 0, '#FF0000', '14px ' + FONT, 6, 'D'),
  textSeries(blueD, 0, 0, '#1414E6', '15px ' + FONT, 6, 'D'),
  {type:'custom', xAxisIndex:0, yAxisIndex:0, z:6, silent:true, clip:false,
   data: arrows.map(a => [a[0], a[1]]),
   renderItem:(params, api) => {
    const a = arrows[params.dataIndex];
    const p = api.coord([a[0], a[1]]);
    const x = Math.round(p[0]) + 0.5, y = Math.round(p[1]), d = a[2];
    const pts = [[x-2.5,y+20*d],[x+2.5,y+20*d],[x+2.5,y+8*d],[x+6,y+8*d],[x,y],[x-6,y+8*d],[x-2.5,y+8*d]];
    return {type:'polygon', shape:{points:pts}, style:{fill:a[3] === 'r' ? '#E00000' : '#000000', stroke:a[3] === 'r' ? '#700000' : '#000000', lineWidth:1}};
   }},
  {type:'custom', xAxisIndex:0, yAxisIndex:0, z:6, silent:true, clip:false,
   data: diamonds.map(d => [d[0], d[1]]),
   renderItem:(params, api) => {
    const p = api.coord([api.value(0), api.value(1)]);
    const x = p[0], y = p[1];
    return {type:'polygon', shape:{points:[[x,y-6],[x+5,y],[x,y+6],[x-5,y]]}, style:{fill:'#1414C8', stroke:'#00005A', lineWidth:1}};
   }},
  textSeries(priceNotes, 0, 0, '#111111', a => (a[3] === 'bold' ? 'bold 14px ' : '12px ') + FONT, 7),
  tagSeries(priceTags, 0, 0),
  // ---- volume panel ----
  {type:'custom', xAxisIndex:1, yAxisIndex:1, z:0, silent:true, clip:true,
   data: volBands.map(b => [b[0], 0]),
   renderItem:(params, api) => {
    const b = volBands[params.dataIndex];
    const a = api.coord([b[0]-0.5, VMAX]), c = api.coord([b[1]+0.5, VMIN]);
    return {type:'rect', shape:{x:a[0], y:a[1], width:c[0]-a[0], height:c[1]-a[1]}, style:{fill:b[2] === 'b' ? '#C5D5DF' : '#DEDBBE'}};
   }},
  levelSeries(volLevels, 1, 1, l => l[0], l => XMIN, l => XMAX, l => l[1], 2),
  {type:'custom', xAxisIndex:1, yAxisIndex:1, z:4, silent:true, clip:true,
   data: volume.map((v, i) => [i, v]),
   renderItem:(params, api) => {
    const p0 = api.coord([api.value(0), 0]), p1 = api.coord([api.value(0), api.value(1)]);
    const h = Math.max(2, p0[1] - p1[1]);
    const w = h < 3 ? 2 : 3;
    return {type:'rect', shape:{x:Math.round(p0[0]) - 1, y:p0[1] - h, width:w, height:h}, style:{fill:VOLC[volClass[params.dataIndex]]}};
   }},
  textSeries(volNotes, 1, 1, '#111111', 'bold 14px ' + FONT, 7),
  tagSeries(volTags, 1, 1),
  // ---- cumulative delta panel ----
  {type:'custom', xAxisIndex:2, yAxisIndex:2, z:0, silent:true, clip:true,
   data: cdZones.map(z => [z[0], 0]),
   renderItem:(params, api) => {
    const z = cdZones[params.dataIndex];
    const a = api.coord([z[0]-0.5, CMAX]), c = api.coord([z[1]+0.5, CMIN]);
    return {type:'rect', shape:{x:a[0], y:a[1], width:c[0]-a[0], height:c[1]-a[1]}, style:{fill:z[2] === 'up' ? '#AAC3AA' : '#DBA8A8'}};
   }},
  levelSeries(cdLevels, 2, 2, l => l[0], l => l[1], l => l[2], l => 'blue', 2),
  {type:'line', xAxisIndex:2, yAxisIndex:2, z:3, silent:true, data:cdMaUp, showSymbol:false, connectNulls:false,
   lineStyle:{color:'#1E6E1E', width:4}},
  {type:'line', xAxisIndex:2, yAxisIndex:2, z:3, silent:true, data:cdMaDn, showSymbol:false, connectNulls:false,
   lineStyle:{color:'#8B1C1C', width:3.5}},
  {type:'custom', xAxisIndex:2, yAxisIndex:2, z:4, silent:true, clip:true,
   data: cdOpen.map((o, i) => [i, o, cdClose[i], cdLow[i], cdHigh[i]]),
   encode:{x:0, y:[1,2,3,4]},
   renderItem:(params, api) => {
    const i = api.value(0), o = api.value(1), c = api.value(2);
    const po = api.coord([i, o]), pc = api.coord([i, c]);
    const pl = api.coord([i, api.value(3)]), ph = api.coord([i, api.value(4)]);
    const x = Math.round(po[0]);
    const top = Math.round(Math.min(po[1], pc[1])), bot = Math.round(Math.max(po[1], pc[1]));
    const ch = [{type:'line', shape:{x1:x+0.5, y1:Math.round(ph[1]), x2:x+0.5, y2:Math.round(pl[1])+1}, style:{stroke:'#000', lineWidth:1}}];
    if (bot - top < 1) ch.push({type:'line', shape:{x1:x-3.5, y1:top+0.5, x2:x+4.5, y2:top+0.5}, style:{stroke:'#000', lineWidth:1}});
    else ch.push({type:'rect', shape:{x:x-4, y:top, width:9, height:Math.max(2, bot-top)}, style:{fill:c > o ? '#90EE90' : '#FF0000'}});
    return {type:'group', children:ch};
   }},
  textSeries(cdNotes, 2, 2, '#222222', '12px ' + FONT, 7),
  tagSeries(cdTags, 2, 2)
 ],
 graphic:[
  frameLine(1, 27.5, 1919, 27.5),
  frameLine(1, 712.5, 1919, 712.5),
  frameLine(1, 801.5, 1919, 801.5),
  frameLine(1, 1012.5, 1919, 1012.5),
  frameLine(1.5, 27, 1.5, 1013),
  frameLine(1918.5, 27, 1918.5, 1013),
  captionStyle('Using NinjaTickFile', 694, '#2A2A3A'),
  captionStyle('dudleyBetterVolume(ES 06-16 (5 Min),20,20), SquatBar', 732, '#1A1A1A'),
  captionStyle('Using NinjaTickFile', 953, '#3A3A50'),
  captionStyle('\u00A9 2016 NinjaTrader, LLC', 962, '#1A1A2A')
 ]
};

const chart = echarts.init(document.getElementById('chart'), null, {renderer:'canvas', width:1920, height:1014});
chart.setOption(option);
</script>
</body>
</html>
